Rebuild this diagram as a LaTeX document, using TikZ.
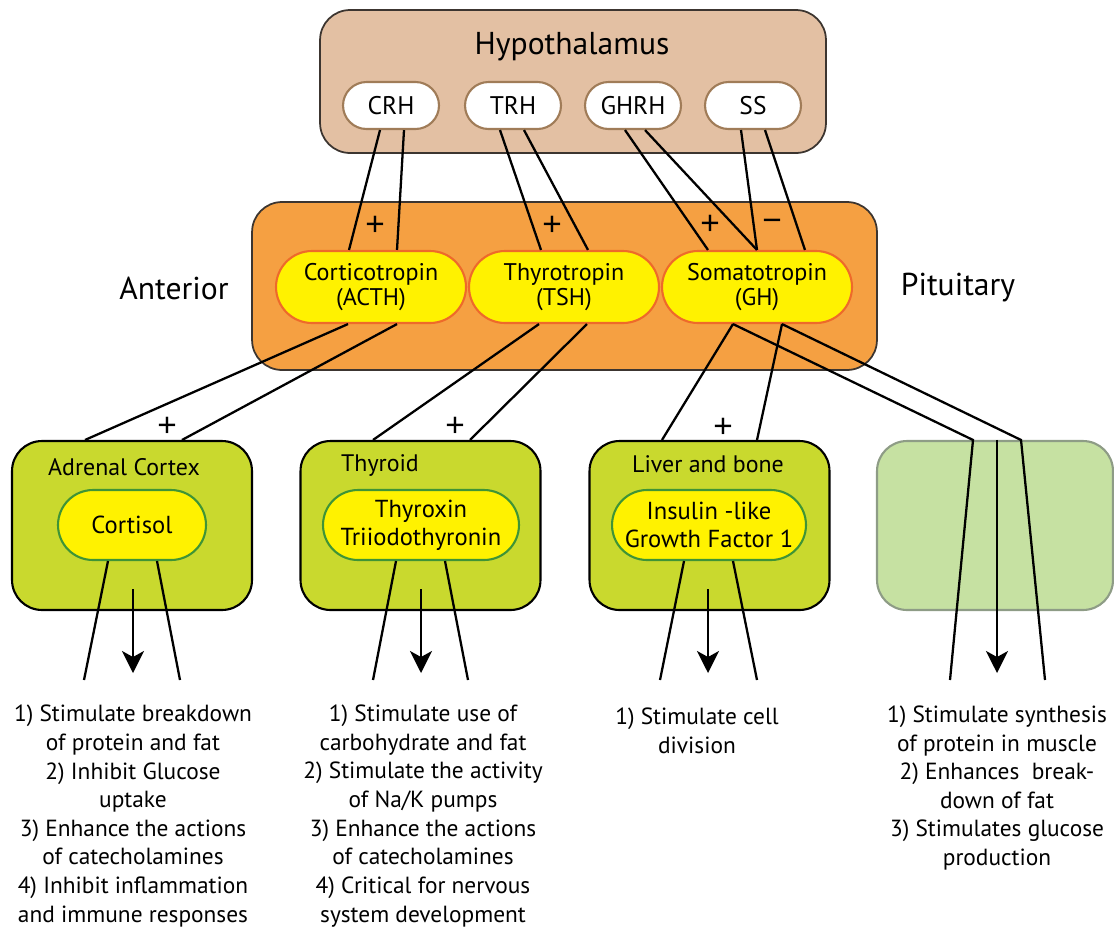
\documentclass[tikz,border=0pt]{standalone}
\usepackage{fontspec}
\setmainfont{PT Sans}
\newfontfamily\signfont{Liberation Sans}
\usetikzlibrary{arrows.meta,calc,shapes.misc}

\definecolor{hypotan}{HTML}{E3C0A3}
\definecolor{hypoedge}{HTML}{3C3530}
\definecolor{pillbrown}{HTML}{A07C58}
\definecolor{pituorange}{HTML}{F5A042}
\definecolor{hormyellow}{HTML}{FFF200}
\definecolor{hormedge}{HTML}{EE6A2A}
\definecolor{glandgreen}{HTML}{C9D92E}
\definecolor{pillgreen}{HTML}{3F9436}
\definecolor{paleleaf}{HTML}{C6E1A2}
\definecolor{paleedge}{HTML}{8E9C86}

\tikzset{
  bigbox/.style={rectangle, rounded corners=0.6cm, draw=hypoedge, line width=1pt},
  relpill/.style={rounded rectangle, draw=pillbrown, fill=white, line width=1.2pt,
    minimum width=1.92cm, minimum height=0.94cm, inner sep=0pt, font=\fontsize{14.5}{16}\selectfont},
  hormpill/.style={rounded rectangle, draw=hormedge, fill=hormyellow, line width=1.2pt,
    minimum width=3.8cm, minimum height=1.44cm, inner sep=0pt, align=center,
    font=\fontsize{13.7}{14}\selectfont},
  gland/.style={rectangle, rounded corners=0.6cm, draw=black, fill=glandgreen, line width=1.2pt,
    minimum width=4.8cm, minimum height=3.38cm},
  targetpill/.style={rounded rectangle, draw=pillgreen, fill=hormyellow, line width=1.2pt,
    minimum height=1.4cm, inner sep=0pt, align=center, font=\fontsize{14}{16}\selectfont},
  organ/.style={font=\fontsize{13.6}{15}\selectfont},
  region/.style={font=\fontsize{18}{20}\selectfont},
  effect/.style={align=center, font=\fontsize{13.3}{16.3}\selectfont},
  sign/.style={font=\signfont\fontsize{19}{19}\selectfont, inner sep=0pt},
  link/.style={line width=1.3pt},
  outflow/.style={line width=1.3pt, -{Stealth[length=0.44cm, width=0.44cm, inset=0.12cm]}}
}

\begin{document}
\begin{tikzpicture}[x=0.02cm, y=-0.02cm]
  \useasboundingbox (0,0) rectangle (1114,930);

  % ---- Hypothalamus with its releasing hormones ----
  \node[bigbox, fill=hypotan, minimum width=10.12cm, minimum height=2.86cm] (hypo) at (573,81.5) {};
  \node[region] (hypolabel) at (572,47) {Hypothalamus};
  \node[relpill] (crh)  at (391,105.5) {CRH};
  \node[relpill] (trh)  at (513,105.5) {TRH};
  \node[relpill] (ghrh) at (633,105.5) {GHRH};
  \node[relpill] (ss)   at (753,105.5) {SS};

  % ---- Anterior pituitary ----
  \node[bigbox, fill=pituorange, minimum width=12.5cm, minimum height=3.36cm] (pit) at (564.5,286) {};
  \node[region] (antlabel) at (174,288) {Anterior};
  \node[region] (pitlabel) at (958,288) {Pituitary};
  \node[hormpill] (acth) at (371,287) {Corticotropin\\(ACTH)};
  \node[hormpill] (tsh)  at (564,287) {Thyrotropin\\(TSH)};
  \node[hormpill] (gh)   at (757,287) {Somatotropin\\(GH)};

  % ---- Target glands ----
  \node[gland] (adrenal) at (132,525.5) {};
  \node[gland] (thyroid) at (420.5,525.5) {};
  \node[gland] (liver)   at (709.5,525.5) {};
  \node[gland, fill=paleleaf, draw=paleedge, minimum width=4.72cm] (pale) at (995,525.5) {};
  \node[organ] (adrlabel) at (124,467) {Adrenal Cortex};
  \node[organ] (thylabel) at (380,465) {Thyroid};
  \node[organ] (livlabel) at (708,464) {Liver and bone};
  \node[targetpill, minimum width=2.96cm] (cortisol) at (132,525) {Cortisol};
  \node[targetpill, minimum width=3.92cm] (thyroxin) at (421,525) {Thyroxin\\Triiodothyronin};
  \node[targetpill, minimum width=3.88cm] (igf)      at (709,525) {Insulin -like\\Growth Factor 1};

  % free ends of the output lines
  \coordinate (adr-l) at (84,680);   \coordinate (adr-r) at (180,680);  \coordinate (adr-a) at (133,673);
  \coordinate (thy-l) at (373,680);  \coordinate (thy-r) at (468,680);  \coordinate (thy-a) at (421,673);
  \coordinate (liv-l) at (660,680);  \coordinate (liv-r) at (757,680);  \coordinate (liv-a) at (708,673);
  \coordinate (pal-l) at (950,680);  \coordinate (pal-r) at (1045,680); \coordinate (pal-a) at (997,673);

  % ---- Hypothalamus -> pituitary ----
  \draw[link] ($(crh.south)+(-11,0)$) -- ($(acth.north)+(-22,0)$);
  \draw[link] ($(crh.south)+(13,0)$)  -- ($(acth.north)+(26,0)$);
  \draw[link] ($(trh.south)+(-13,0)$) -- ($(tsh.north)+(-23,0)$);
  \draw[link] ($(trh.south)+(11,0)$)  -- ($(tsh.north)+(24,0)$);
  \draw[link] ($(ghrh.south)+(-8,0)$) -- ($(gh.north)+(-49,0)$);
  \draw[link] ($(ghrh.south)+(12,0)$) -- (gh.north);
  \draw[link] ($(ss.south)+(-12,0)$)  -- (gh.north);
  \draw[link] ($(ss.south)+(12,0)$)   -- ($(gh.north)+(48,0)$);
  \node[sign] (p1) at (375,226) {+};
  \node[sign] (p2) at (552,226) {+};
  \node[sign] (p3) at (710,225) {+};
  \node[sign] (m1) at (772,225) {−};

  % ---- Pituitary -> glands ----
  \draw[link] ($(acth.south)+(-23,0)$) -- ($(adrenal.north)+(-47,0)$);
  \draw[link] ($(acth.south)+(26,0)$)  -- ($(adrenal.north)+(50,0)$);
  \draw[link] ($(tsh.south)+(-25,0)$)  -- ($(thyroid.north)+(-47.5,0)$);
  \draw[link] ($(tsh.south)+(23,0)$)   -- ($(thyroid.north)+(49.5,0)$);
  \draw[link] ($(gh.south)+(-24,0)$)   -- ($(liver.north)+(-47.5,0)$);
  \draw[link] ($(gh.south)+(25,0)$)    -- ($(liver.north)+(47.5,0)$);
  \draw[link] ($(gh.south)+(-24,0)$)   -- ($(pale.north)+(-22,0)$) -- (pal-l);
  \draw[link] ($(gh.south)+(25,0)$)    -- ($(pale.north)+(26,0)$) -- (pal-r);
  \draw[outflow] ($(pale.north)+(2,0)$) -- (pal-a);
  \node[sign] (p4) at (167,427) {+};
  \node[sign] (p5) at (455,427) {+};
  \node[sign] (p6) at (723,428) {+};

  % ---- Glands -> effects ----
  \draw[link] ($(cortisol.south)+(-24,0)$) -- (adr-l);
  \draw[link] ($(cortisol.south)+(25,0)$)  -- (adr-r);
  \draw[outflow] ($(cortisol.south)+(1,28)$) -- (adr-a);
  \draw[link] ($(thyroxin.south)+(-25,0)$) -- (thy-l);
  \draw[link] ($(thyroxin.south)+(24,0)$)  -- (thy-r);
  \draw[outflow] ($(thyroxin.south)+(0,28)$) -- (thy-a);
  \draw[link] ($(igf.south)+(-25,0)$) -- (liv-l);
  \draw[link] ($(igf.south)+(24,0)$)  -- (liv-r);
  \draw[outflow] ($(igf.south)+(-1,28)$) -- (liv-a);

  \node[effect] (adreff) at (133,816) {1) Stimulate breakdown\\of protein and fat\\2) Inhibit Glucose\\uptake\\3) Enhance the actions\\of catecholamines\\4) Inhibit inflammation\\and immune responses};
  \node[effect] (thyeff) at (423,816) {1) Stimulate use of\\carbohydrate and fat\\2) Stimulate the activity\\of Na/K pumps\\3) Enhance the actions\\of catecholamines\\4) Critical for nervous\\system development};
  \node[effect] (liveff) at (697,731) {1) Stimulate cell\\division};
  \node[effect] (paleff) at (997,788) {1) Stimulate synthesis\\of protein in muscle\\2) Enhances~ break-\\down of fat\\3) Stimulates glucose\\production};

\end{tikzpicture}
\end{document}
